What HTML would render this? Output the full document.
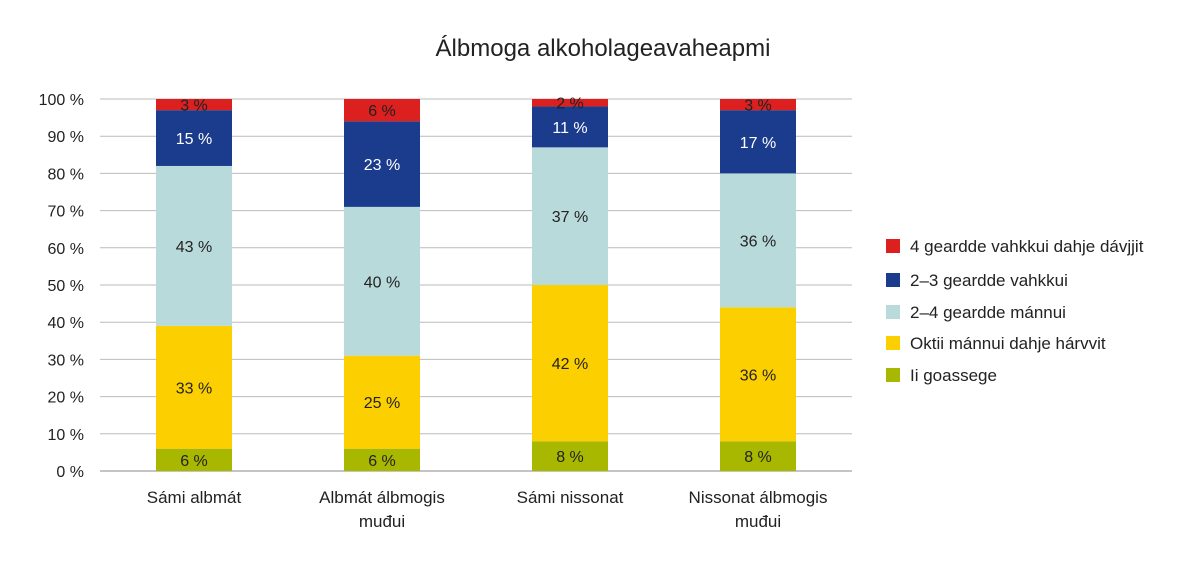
<!DOCTYPE html>
<html><head><meta charset="utf-8"><style>
body{margin:0;background:#fff;}
svg{display:block;font-family:"Liberation Sans",sans-serif;}
</style></head><body>
<svg id="chart" width="1200" height="569">
<text x="603" y="56" text-anchor="middle" font-size="24" fill="#222">Álbmoga alkoholageavaheapmi</text>
</svg>
<script>
const categories=[["Sámi albmát"],["Albmát álbmogis","muđui"],["Sámi nissonat"],["Nissonat álbmogis","muđui"]];
const seriesNames=["Ii goassege","Oktii mánnui dahje hárvvit","2–4 geardde mánnui","2–3 geardde vahkkui","4 geardde vahkkui dahje dávjjit"];
const iiGoassege=[6,6,8,8];
const oktiiMannui=[33,25,42,36];
const geardeManuui=[43,40,37,36];
const geardeVahkkui=[15,23,11,17];
const njealjeVahkkui=[3,6,2,3];
const yTicks=[0,10,20,30,40,50,60,70,80,90,100];
const series=[iiGoassege,oktiiMannui,geardeManuui,geardeVahkkui,njealjeVahkkui];
const colors=["#a8b800","#fccf00","#b9dadb","#1b3c8c","#dc1f1f"];
const textColors=["#222","#222","#222","#fff","#222"];
const svg=document.getElementById('chart');
const NS="http://www.w3.org/2000/svg";
const x0=100,x1=852,y0=471,y100=99;
const y=v=>y0-(y0-y100)*v/100;
const band=(x1-x0)/categories.length;
const cx=i=>x0+band*(i+0.5);
const bw=76;
function el(t,a){const e=document.createElementNS(NS,t);for(const k in a)e.setAttribute(k,a[k]);svg.appendChild(e);return e;}
yTicks.forEach(t=>{
  const g=el('line',{x1:x0,x2:x1,y1:y(t),y2:y(t),stroke:t===0?'#888':'#bbb','stroke-width':1});
  
  
  const tx=el('text',{x:84,y:y(t)+6,'text-anchor':'end','font-size':16,fill:'#222'});
  tx.textContent=t+' %';
  
  
});
categories.forEach((c,i)=>{
  let acc=0;
  series.forEach((s,j)=>{
    const v=s[i];
    const r=el('rect',{x:cx(i)-bw/2,y:y(acc+v),width:bw,height:y(acc)-y(acc+v),fill:colors[j]});
    
    
    const t=el('text',{x:cx(i),y:(y(acc)+y(acc+v))/2+6,'text-anchor':'middle','font-size':16,fill:textColors[j]});
    t.textContent=v+' %';
    
    
    acc+=v;
  });
  c.forEach((line,k)=>{
    const t=el('text',{x:cx(i),y:503+k*24,'text-anchor':'middle','font-size':17,fill:'#222'});
    t.textContent=line;
    
    
  });
});
const legendY=[376,344,313,281,247];
seriesNames.forEach((n,j)=>{
  const r=el('rect',{x:886,y:legendY[j]-8,width:14,height:14,fill:colors[j]});
  
  
  const t=el('text',{x:910,y:legendY[j]+5,'font-size':17,fill:'#222'});
  t.textContent=n;
  
  
});
</script>
</body></html>
